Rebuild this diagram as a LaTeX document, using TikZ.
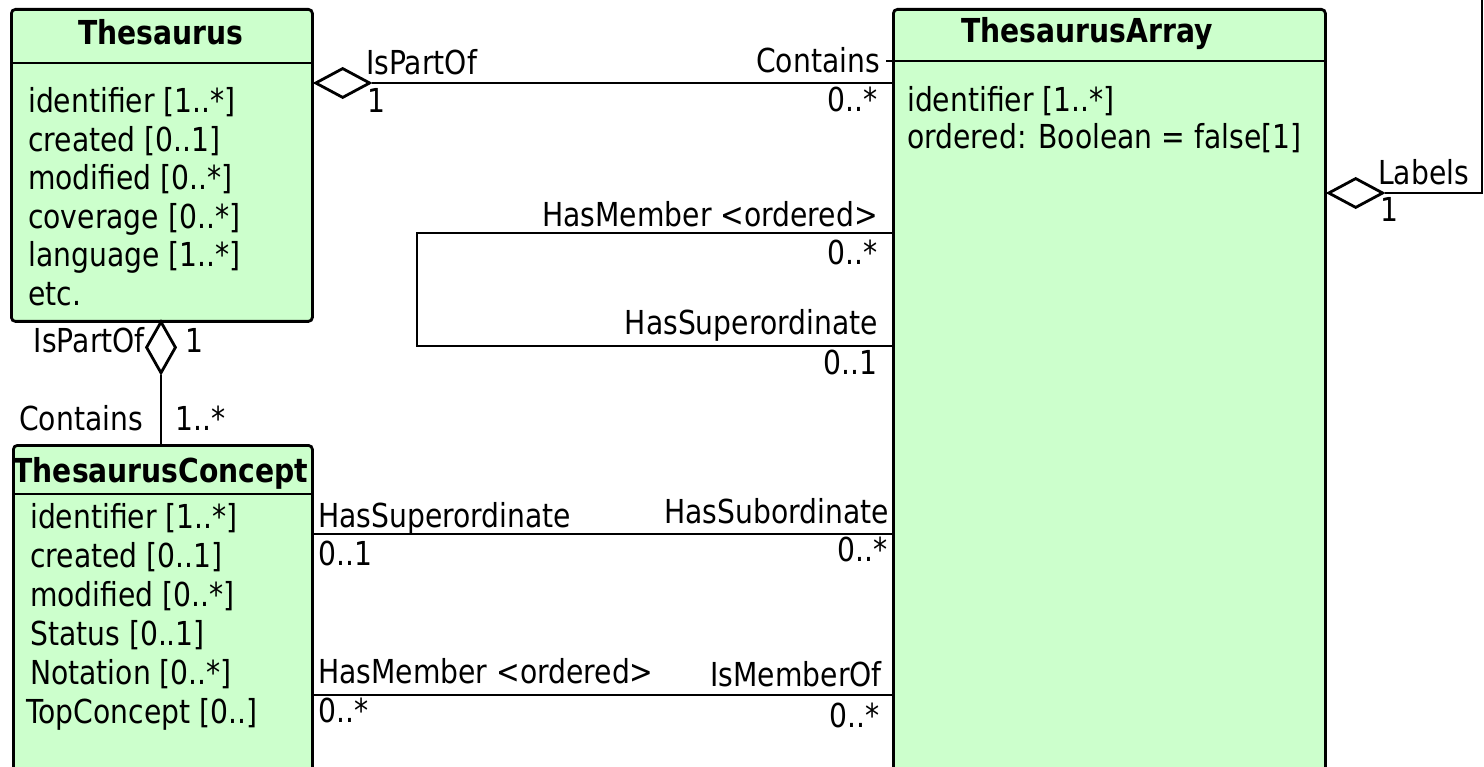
\documentclass[tikz,border=0pt]{standalone}
\usepackage{fontspec}
\setmainfont{DejaVu Sans}[FakeStretch=0.855]
\usetikzlibrary{shapes.geometric}
\definecolor{classfill}{HTML}{CCFFCC}
\tikzset{
  classbox/.style={draw, line width=2.8pt, fill=classfill, rounded corners=4pt,
                   inner sep=0pt, anchor=north west},
  divider/.style={line width=2.8pt},
  assoc/.style={line width=2.8pt},
  agg/.style={diamond, draw, fill=white, line width=2.8pt, inner sep=0pt,
              minimum width=55pt, minimum height=30pt},
  vagg/.style={agg, minimum width=30pt, minimum height=52pt},
  txt/.style={inner sep=0pt, font=\fontsize{33}{39}\selectfont},
  ttl/.style={inner sep=0pt, font=\fontsize{33}{39}\selectfont\bfseries, anchor=base},
  lw/.style={txt, anchor=base west},
  le/.style={txt, anchor=base east},
}
\begin{document}
\begin{tikzpicture}[x=1pt, y=-1pt]
\useasboundingbox (0,0) rectangle (1484,767);
\clip (0,0) rectangle (1484,767);

% rows used by the connectors
\coordinate (rowA) at (0,83);
\coordinate (rowL) at (0,193);
\coordinate (rowM) at (0,233);
\coordinate (rowS) at (0,346);
\coordinate (rowSub) at (0,534);
\coordinate (rowMem) at (0,695);
\coordinate (loopx) at (417,0);
\coordinate (edge) at (1482,0);

% ---------- Thesaurus ----------
\node[classbox, minimum width=301pt, minimum height=312pt] (thes) at (10,8) {};
\draw[divider] (10,63) -- (311,63);
\node[ttl] (thesT) at (161,45) {Thesaurus};
\node[lw] (ta1) at (28,113) {identifier [1..*]};
\node[lw] (ta2) at (28,151.5) {created [0..1]};
\node[lw] (ta3) at (28,190) {modified [0..*]};
\node[lw] (ta4) at (28,228.5) {coverage [0..*]};
\node[lw] (ta5) at (28,267) {language [1..*]};
\node[lw] (ta6) at (28,305.5) {etc.};

% ---------- ThesaurusArray ----------
\node[classbox, minimum width=432pt, minimum height=820pt] (arr) at (892,8) {};
\draw[divider] (886,61) -- (1324,61);
\node[ttl] (arrT) at (1087,43) {ThesaurusArray};
\node[lw] (aa1) at (907,112) {identifier [1..*]};
\node[lw] (aa2) at (907,149) {ordered: Boolean = false[1]};

% ---------- ThesaurusConcept ----------
\node[classbox, minimum width=299pt, minimum height=400pt] (con) at (12,444) {};
\draw[divider] (12,494) -- (311,494);
\node[ttl] (conT) at (161,482) {ThesaurusConcept};
\node[lw] (ca1) at (30,528) {identifier [1..*]};
\node[lw] (ca2) at (30,567) {created [0..1]};
\node[lw] (ca3) at (30,606) {modified [0..*]};
\node[lw] (ca4) at (30,645) {Status [0..1]};
\node[lw] (ca5) at (30,684) {Notation [0..*]};
\node[lw] (ca6) at (26,723) {TopConcept [0..]};

% ---------- Thesaurus <>--- ThesaurusArray ----------
\node[agg, anchor=west] (d1) at (thes.east |- rowA) {};
\draw[assoc] (d1.east) -- (arr.west |- rowA);
\node[lw] (l1a) at (366,75) {IsPartOf};
\node[lw] (l1b) at (367,113) {1};
\node[le] (l1c) at (880,73) {Contains};
\node[le] (l1d) at (878,112) {0..*};

% ---------- Thesaurus <>--- ThesaurusConcept ----------
\node[vagg, anchor=north] (d2) at (161,320) {};
\draw[assoc] (d2.south) -- (d2.south |- con.north);
\node[le] (l2a) at (145,353) {IsPartOf};
\node[lw] (l2b) at (185,353) {1};
\node[le] (l2c) at (143,431) {Contains};
\node[lw] (l2d) at (175,431) {1..*};

% ---------- ThesaurusArray self association (Labels) ----------
\node[agg, anchor=west] (d3) at (arr.east |- rowL) {};
\draw[assoc] (d3.east) -- (edge |- rowL) -- ++(0,-220);
\node[lw] (l3a) at (1378,185) {Labels};
\node[lw] (l3b) at (1380,222) {1};

% ---------- ThesaurusArray self association (members) ----------
\draw[assoc] (arr.west |- rowM) -- (loopx |- rowM) -- (loopx |- rowS) -- (arr.west |- rowS);
\node[le] (l4a) at (878,227) {HasMember <ordered>};
\node[le] (l4b) at (878,265) {0..*};
\node[le] (l4c) at (878,335) {HasSuperordinate};
\node[le] (l4d) at (878,375) {0..1};

% ---------- ThesaurusConcept --- ThesaurusArray ----------
\draw[assoc] (con.east |- rowSub) -- (arr.west |- rowSub);
\node[lw] (l5a) at (318,527) {HasSuperordinate};
\node[lw] (l5b) at (318,565) {0..1};
\node[le] (l5c) at (889,523) {HasSubordinate};
\node[le] (l5d) at (888,561) {0..*};

\draw[assoc] (con.east |- rowMem) -- (arr.west |- rowMem);
\node[lw] (l6a) at (318,683) {HasMember <ordered>};
\node[lw] (l6b) at (318,722) {0..*};
\node[le] (l6c) at (882,686) {IsMemberOf};
\node[le] (l6d) at (880,727) {0..*};
\end{tikzpicture}
\end{document}
